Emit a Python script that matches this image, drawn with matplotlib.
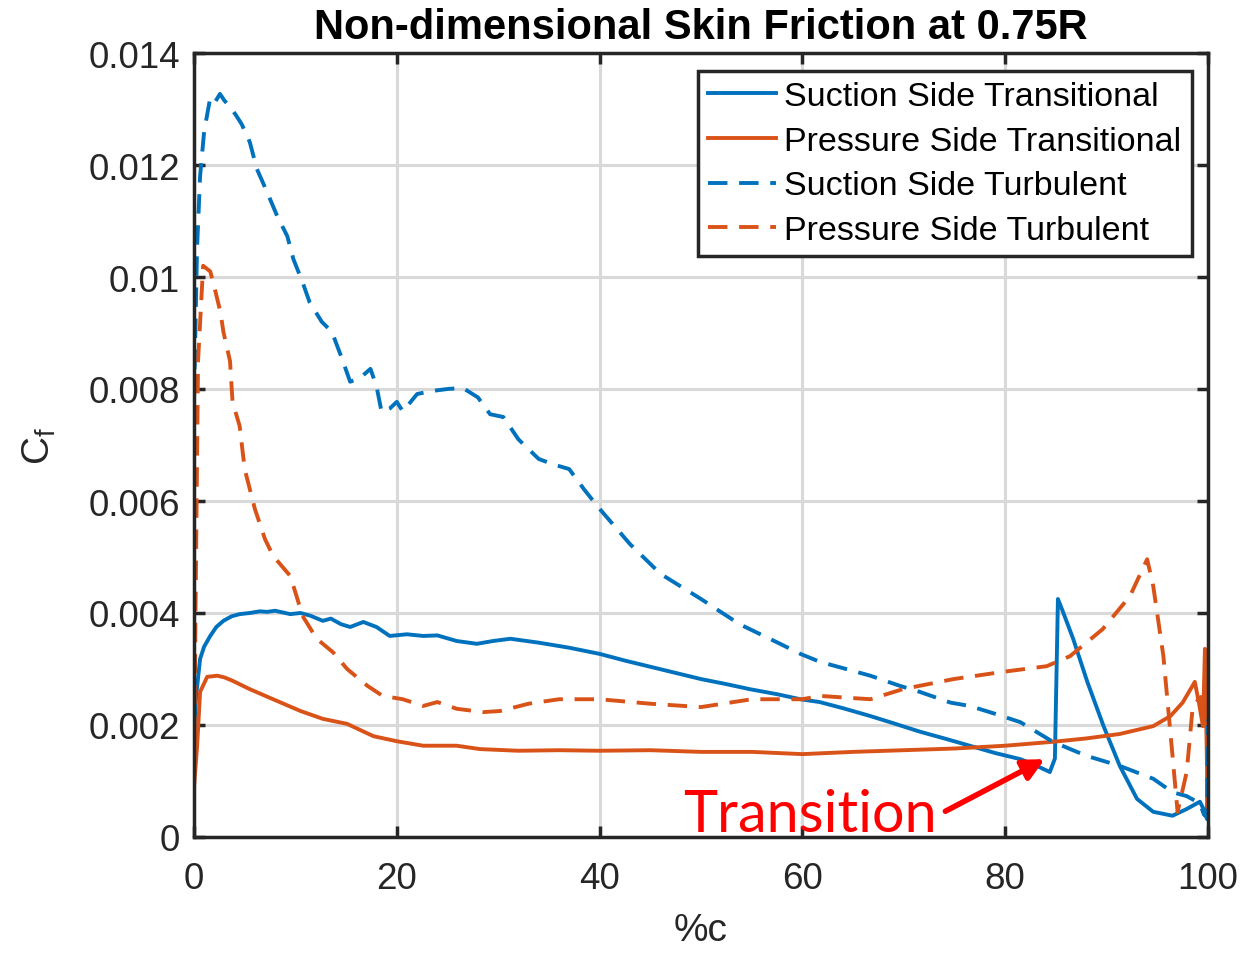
import numpy as np
import matplotlib.pyplot as plt

# chord position (%c) and skin friction values
sst_x = [0, 0.2, 0.6, 1.0, 1.6, 2.2, 2.9, 3.7, 4.5, 5.5, 6.5, 7.2, 8.0, 9.0, 9.5, 10.5, 11.5, 12.7,
         13.5, 14.5, 15.4, 16.7, 18.0, 19.3, 21.0, 22.6, 24.0, 25.9, 27.9, 29.5, 31.2, 34, 37, 40,
         42.5, 45, 47.5, 50, 52.5, 54.8, 57.5, 59.8, 61.7, 64, 66.7, 69, 71.6, 74, 76.5, 79, 81.5,
         83, 84.4, 84.9, 85.2, 85.7, 86.7, 88.1, 89.7, 91.3, 93, 94.6, 96.5, 97.9, 99.2, 99.7, 99.9, 100]
sst_y = [0.0018, 0.0025, 0.00318, 0.0034, 0.00359, 0.00375, 0.00386, 0.00394, 0.00398, 0.0040,
         0.00403, 0.00402, 0.00404, 0.0040, 0.00398, 0.0040, 0.00395, 0.00386, 0.0039, 0.0038,
         0.00375, 0.00384, 0.00375, 0.00359, 0.00362, 0.00359, 0.0036, 0.0035, 0.00345, 0.0035,
         0.00354, 0.00347, 0.00338, 0.00327, 0.00315, 0.00304, 0.00293, 0.00282, 0.00273, 0.00264,
         0.00255, 0.00246, 0.00241, 0.0023, 0.00216, 0.00203, 0.00188, 0.00176, 0.00163, 0.0015,
         0.00139, 0.00128, 0.00116, 0.0014, 0.00425, 0.00402, 0.00354, 0.00277, 0.00198, 0.00127,
         0.00068, 0.00045, 0.00038, 0.0005, 0.00063, 0.00045, 0.00032, 0.00205]

pst_x = [0, 0.3, 0.6, 1.3, 2.3, 3.0, 3.8, 5.5, 7.8, 10.5, 12.7, 15.1, 17.7, 20, 22.6, 25.9, 28.2,
         32, 36, 40, 45, 50, 55, 60, 65, 70, 75, 80, 84.7, 88, 91.3, 94.6, 96.3, 97.5, 98.7, 99.1,
         99.5, 99.7, 99.9, 100]
pst_y = [0.0009, 0.0016, 0.00259, 0.00286, 0.00288, 0.00285, 0.00279, 0.00264, 0.00246, 0.00225,
         0.00211, 0.00202, 0.0018, 0.00171, 0.00163, 0.00163, 0.00157, 0.00154, 0.00155, 0.00154,
         0.00155, 0.00152, 0.00152, 0.00148, 0.00152, 0.00155, 0.00158, 0.00163, 0.0017, 0.00176,
         0.00184, 0.00198, 0.00216, 0.0024, 0.00277, 0.0024, 0.00198, 0.00336, 0.00127, 0.00045]

stb_x = [0, 0.3, 0.6, 1.0, 1.58, 2.0, 2.56, 3.0, 3.55, 4.1, 4.7, 5.5, 6.2, 7.2, 8.2, 9.2, 9.8,
         10.7, 11.4, 12.6, 13.6, 14.6, 15.4, 16.4, 17.4, 18.0, 18.5, 19.3, 20.0, 20.6, 22, 23.3,
         25, 26.5, 28, 29.2, 30.5, 32, 34, 35.5, 37, 38.5, 40, 43, 46, 50, 53.8, 57.8, 59.8, 61.7,
         64.7, 66.7, 69.6, 71.6, 74.6, 76.5, 79, 81.5, 84.7, 88, 91.3, 94.6, 96.5, 97.9, 99.2,
         99.6, 99.9, 100]
stb_y = [0.0078, 0.0105, 0.0118, 0.0126, 0.01318, 0.0131, 0.01327, 0.01315, 0.01304, 0.0129,
         0.01273, 0.01241, 0.01193, 0.01152, 0.01109, 0.01073, 0.01032, 0.00991, 0.00955, 0.0092,
         0.00902, 0.00854, 0.00813, 0.0082, 0.00836, 0.00805, 0.00759, 0.00765, 0.00777, 0.0076,
         0.00791, 0.00796, 0.0080, 0.00802, 0.00785, 0.00755, 0.0075, 0.0071, 0.00675, 0.00665,
         0.00657, 0.0062, 0.00586, 0.00523, 0.0047, 0.00425, 0.0038, 0.00345, 0.00327, 0.00313,
         0.00298, 0.00288, 0.0027, 0.00259, 0.0024, 0.00234, 0.0022, 0.00205, 0.0017, 0.00145,
         0.00127, 0.00104, 0.0008, 0.00073, 0.0006, 0.0004, 0.00035, 0.0021]

ptb_x = [0, 0.15, 0.4, 0.9, 1.6, 1.9, 2.6, 2.9, 3.55, 3.8, 4.5, 5.0, 6.0, 7.0, 7.8, 9.5, 10.2,
         10.7, 12.1, 13.7, 15.1, 17.1, 18.6, 20.6, 22.6, 24, 25.9, 28.5, 30.2, 33, 36, 40, 45, 50,
         55, 60, 61.7, 66.7, 69.9, 74.9, 79.8, 84.1, 86.4, 89.6, 92.3, 94, 94.6, 95.6, 96.5, 97,
         97.9, 98.5, 99.3, 100]
ptb_y = [0.0007, 0.004, 0.0085, 0.0102, 0.0101, 0.0099, 0.00938, 0.00902, 0.0085, 0.00777,
         0.00734, 0.00657, 0.00586, 0.00532, 0.00502, 0.00466, 0.00425, 0.00395, 0.00354, 0.0033,
         0.003, 0.0027, 0.00252, 0.00246, 0.00234, 0.00241, 0.00229, 0.00223, 0.00225, 0.00238,
         0.00246, 0.00246, 0.00238, 0.00232, 0.00246, 0.00246, 0.00252, 0.00246, 0.00264, 0.00282,
         0.00295, 0.00305, 0.00323, 0.00371, 0.0043, 0.00496, 0.00448, 0.00323, 0.00145, 0.00045,
         0.00116, 0.00234, 0.0025, 0.002]

labels = ['Suction Side Transitional', 'Pressure Side Transitional',
          'Suction Side Turbulent', 'Pressure Side Turbulent']

blue = '#0072BD'
orange = '#D95319'

plt.rcParams['font.family'] = ['Liberation Sans', 'DejaVu Sans']

fig = plt.figure(figsize=(12.55, 9.54), dpi=100)
ax = fig.add_axes([194/1255, 1-838/954, 1014/1255, 784/954])

lw = 2.8
ax.plot(sst_x, sst_y, color=blue, lw=lw, label=labels[0])
ax.plot(pst_x, pst_y, color=orange, lw=lw, label=labels[1])
ax.plot(stb_x, stb_y, color=blue, lw=lw, dashes=(5, 3), label=labels[2])
ax.plot(ptb_x, ptb_y, color=orange, lw=lw, dashes=(5, 3), label=labels[3])

ax.set_xlim(0, 100)
ax.set_ylim(0, 0.014)
ax.set_xticks(np.arange(0, 101, 20))
ax.set_yticks(np.arange(0, 0.0141, 0.002))
ax.set_yticklabels(['0', '0.002', '0.004', '0.006', '0.008', '0.01', '0.012', '0.014'])
ax.grid(True, color='#d9d9d9', lw=2.2)
ax.set_axisbelow(True)
for s in ax.spines.values():
    s.set_linewidth(2.5)
    s.set_color('#262626')
ax.tick_params(direction='in', length=8, width=2.5, top=True, right=True,
               labelsize=26.5, colors='#262626')
ax.tick_params(axis='x', pad=17)
ax.tick_params(axis='y', pad=10)

ax.set_title('Non-dimensional Skin Friction at 0.75R', fontsize=30, fontweight='bold',
             family=['Liberation Sans Narrow', 'Liberation Sans'], pad=11)
ax.set_xlabel('%c', fontsize=28, color='#262626', labelpad=12)
ax.set_ylabel(r'C$_\mathregular{f}$', fontsize=28, color='#262626', labelpad=22)

leg = ax.legend(loc='upper right', bbox_to_anchor=(0.984, 0.977), borderaxespad=0,
                fontsize=24.5, labelspacing=0.4, handlelength=2.0, handletextpad=0.25,
                borderpad=0.3, fancybox=False, framealpha=1, edgecolor='#262626')
leg.get_frame().set_linewidth(2.5)

ax.text(48.2, 0.00041, 'Transition', fontsize=41.5, color='red',
        family=['Lato', 'DejaVu Sans'], va='center', ha='left')
ax.annotate('', xy=(83.9, 0.00139), xytext=(74.1, 0.00046),
            arrowprops=dict(arrowstyle='-|>', color='red', lw=4, mutation_scale=32,
                            shrinkA=0, shrinkB=0))

fig.savefig('out.png', dpi=100)
